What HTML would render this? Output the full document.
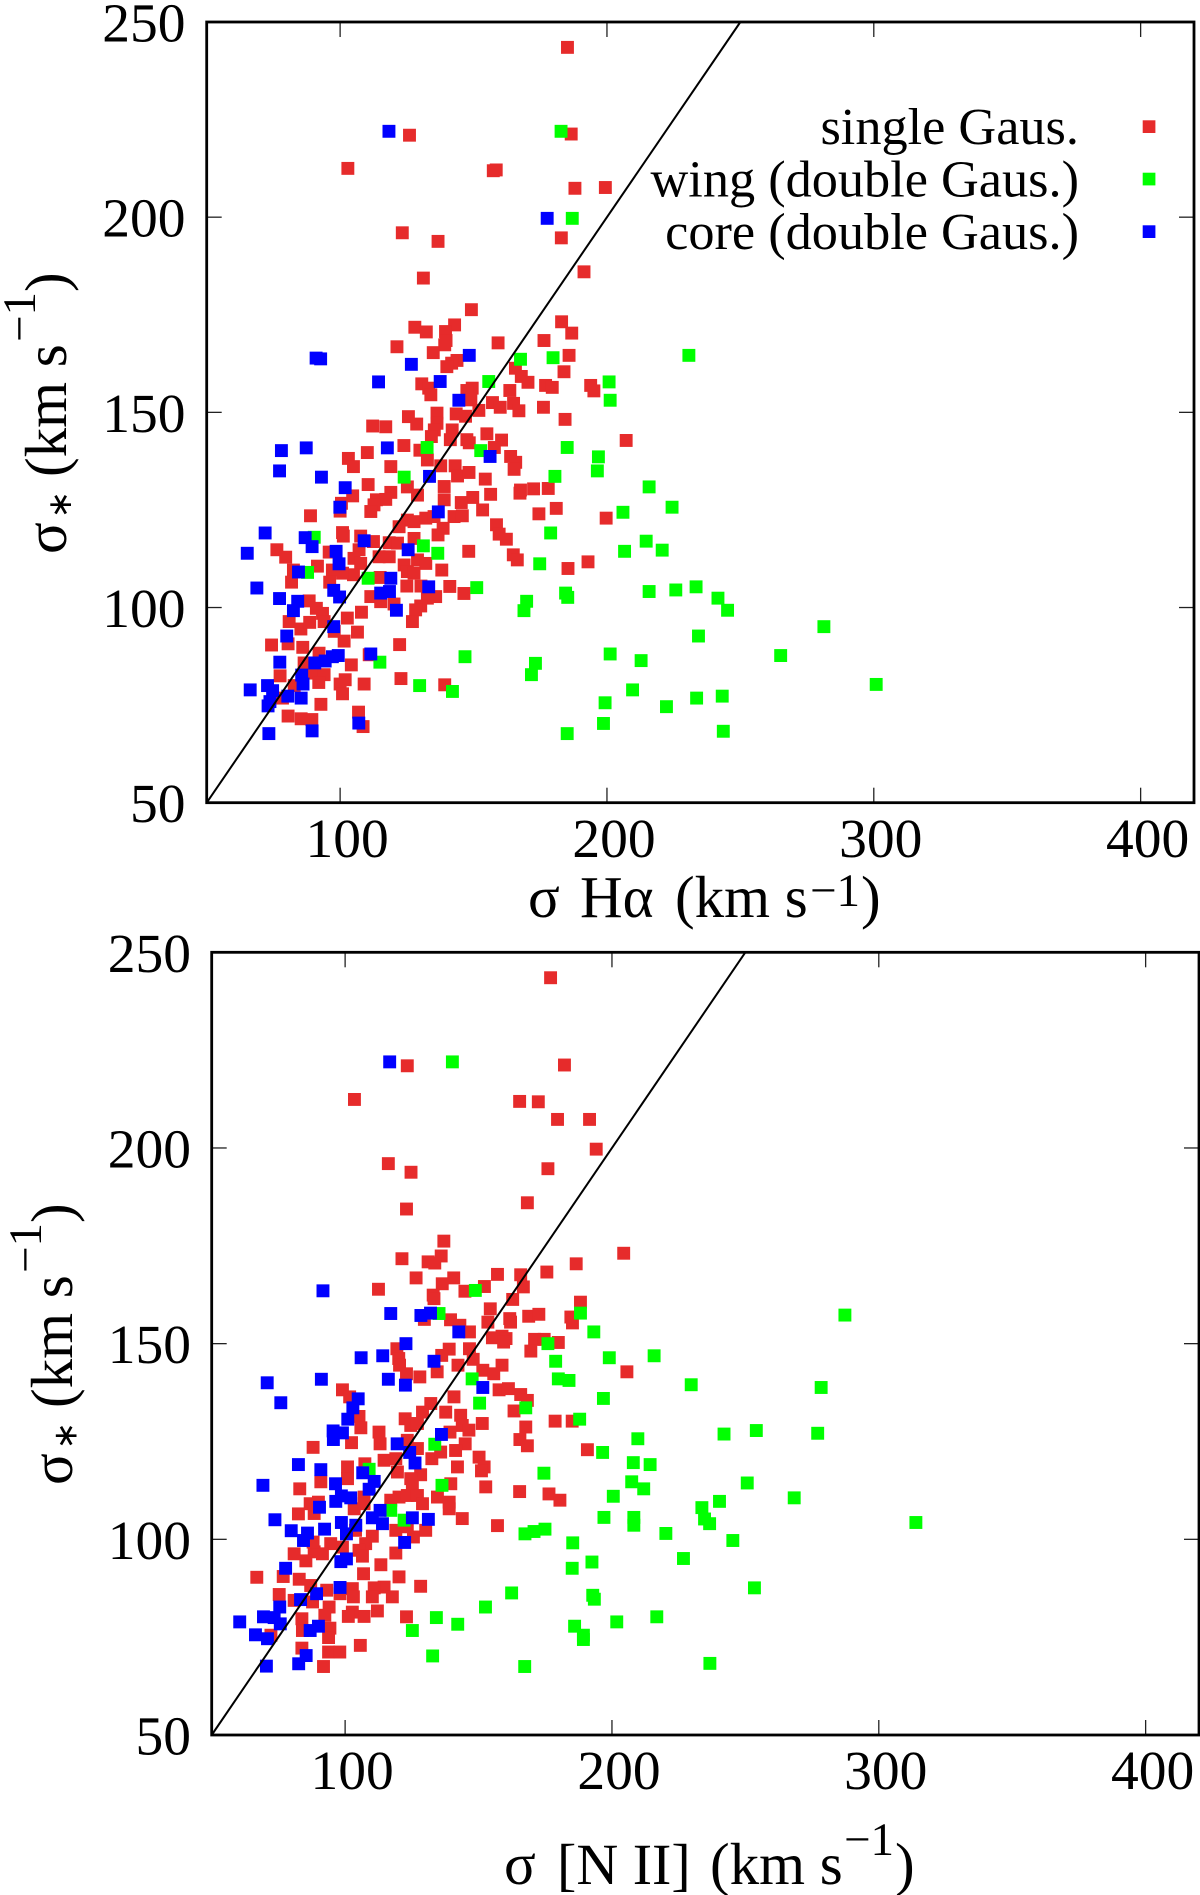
<!DOCTYPE html>
<html>
<head>
<meta charset="utf-8">
<title>Velocity dispersion comparison</title>
<style>
html,body{margin:0;padding:0;background:#fff;}
svg{display:block;position:absolute;left:0;top:0;}
text{font-family:"Liberation Serif",serif;fill:#000;}
</style>
</head>
<body>
<svg id="chart" width="1200" height="1895" viewBox="0 0 1200 1895" xmlns="http://www.w3.org/2000/svg">
  <g id="panel-top"></g>
  <g id="panel-bottom"></g>

  <g>
    <text x="528" y="917" font-size="59">σ</text>
    <text x="580" y="917" font-size="59">Hα</text>
    <text x="675" y="917" font-size="59">(km s</text>
    <text x="810" y="906" font-size="47">−1</text>
    <text x="861" y="917" font-size="59">)</text>
  </g>
  <g>
    <text transform="translate(66,554) rotate(-90)" font-size="59">σ</text>
    <text transform="translate(71,518.5) rotate(-90)" font-size="33">∗</text>
    <text transform="translate(66,477) rotate(-90)" font-size="59">(km s</text>
    <text transform="translate(35,342) rotate(-90)" font-size="47">−1</text>
    <text transform="translate(66,292) rotate(-90)" font-size="59">)</text>
  </g>

  <g>
    <text x="504" y="1884" font-size="59">σ</text>
    <text x="557" y="1884" font-size="58">[N II]</text>
    <text x="710" y="1884" font-size="59">(km s</text>
    <text x="844" y="1855" font-size="47">−1</text>
    <text x="895" y="1884" font-size="59">)</text>
  </g>
  <g>
    <text transform="translate(72,1485) rotate(-90)" font-size="59">σ</text>
    <text transform="translate(76.5,1449.5) rotate(-90)" font-size="33">∗</text>
    <text transform="translate(72,1408) rotate(-90)" font-size="59">(km s</text>
    <text transform="translate(41,1273) rotate(-90)" font-size="47">−1</text>
    <text transform="translate(72,1223) rotate(-90)" font-size="59">)</text>
  </g>

  <g>
    <text x="1079" y="144" font-size="52.3" text-anchor="end">single Gaus.</text>
    <rect x="1142.7" y="120.3" width="12.7" height="12.7" fill="#e62b2b"/>
    <text x="1079" y="196.7" font-size="52.3" text-anchor="end">wing (double Gaus.)</text>
    <rect x="1142.7" y="172.7" width="12.7" height="12.7" fill="#00ff00"/>
    <text x="1079" y="249" font-size="52.3" text-anchor="end">core (double Gaus.)</text>
    <rect x="1142.7" y="225.3" width="12.7" height="12.7" fill="#0000ff"/>
  </g>
</svg>
<script>
const xTickValues = [100, 200, 300, 400];
const yTickValues = [50, 100, 150, 200, 250];

const topSingle = [[185.2,243.5],[126,221],[186.6,221.3],[102.9,212.5],[157.4,211.9],[158.5,212.1],[188,207.4],[199.4,207.6],[123.3,196],[136.7,193.8],[182.9,194.7],[191.4,186],[131.2,184.4],[149.2,176.3],[142.9,172.4],[128,171.8],[132.3,170.6],[139.5,170.7],[183,173.2],[186.8,170.3],[121.3,166.8],[139.2,167.3],[139.7,168.4],[159.2,167.8],[134.9,165.3],[176.4,168.4],[185.8,164.6],[143.8,163.3],[141.8,162.6],[140,161.7],[183.9,160.4],[165.7,161.3],[167.9,159.2],[170.4,157.7],[130.6,157.3],[133.2,156.2],[134,154.5],[149.5,156.2],[147.5,155.6],[149,153.2],[163.6,155.6],[177,156.9],[179.5,156.4],[193.9,156.9],[195.1,155.5],[157.1,152.5],[160,151.3],[165,152.3],[167,150.4],[176.2,151.3],[152,150.5],[143.5,149.6],[147,149],[184.3,148.2],[136.3,149.8],[136.3,147.2],[125.6,148.9],[128.7,147],[112.2,146.5],[117.1,146.3],[135.3,145.5],[134.2,143.8],[142,145.5],[141.3,143],[155,144.5],[160.5,142.9],[147.5,143],[148.4,142.2],[157.8,141],[207.2,142.8],[110.2,139.7],[123.9,141.5],[129.9,140.3],[163.9,138.7],[165.8,137.2],[165.2,135.4],[103.1,138.2],[105,136.1],[119,136.1],[132.7,137.8],[137.7,136.3],[143.1,136.3],[144,133.7],[148.3,134.6],[154.4,132.9],[156.4,129],[167.4,129.3],[167.6,130.1],[172.5,130.4],[178,130.5],[174.5,124],[181,125.4],[110.5,131.5],[125.2,130.9],[129,128.8],[139,131],[139,127.6],[104.7,128.6],[100.5,126.7],[119,129.5],[117.1,127.7],[113.6,127.6],[112.7,126.3],[111.5,124.6],[149.7,128.2],[145.4,126.9],[153.4,125],[100,124.7],[88.9,123.5],[100.9,119.2],[101.2,118.3],[107.7,118.3],[112.5,116.9],[118.4,116.6],[121.5,116.5],[125.2,122.4],[122.1,120.7],[127.7,122],[132.1,122.9],[135.2,123.3],[138.6,120.3],[136.7,118.6],[127.7,117.7],[142.7,123.3],[145.8,123.5],[158.6,121.2],[159.6,118.8],[162.3,117.5],[164.9,113.5],[166.4,112.2],[148.2,114.4],[185.4,110],[192.9,111.7],[199.7,122.9],[76.3,114.8],[79.6,112.9],[82.5,109.6],[81.8,106.5],[91.5,110.6],[95.9,114.2],[107.1,114.8],[105.2,112.6],[107.7,111.3],[105,108.4],[97.1,109.6],[96.1,106.5],[100.9,108.8],[114.6,113],[118.4,113],[124,110.9],[129,112.2],[132.1,111.3],[125.2,109.2],[127.7,108.8],[138.1,109.6],[115,107.7],[125,105.5],[130.3,105.5],[141.1,105.4],[146.4,103.6],[135.8,102.8],[132.7,102.4],[130.2,100.4],[128.3,99.4],[127.1,96.4],[111.5,102.8],[115.2,101.5],[120.2,100.9],[108,98.8],[88.4,101.7],[91.1,99.8],[93.4,98.5],[102.7,97.3],[80.9,96.4],[85.3,94.5],[88.6,96.2],[94,96.4],[97.8,93.9],[106.5,93.7],[101.5,91.4],[74.3,90.4],[80.5,90.7],[86,89.8],[122.3,90.5],[92.1,88.3],[110.9,87.9],[104.2,85.3],[86.5,85.8],[77.5,82.5],[89.8,83.2],[94,82.8],[92,80.8],[101.9,81.5],[100,80.4],[109,80.4],[122.8,81.8],[139.2,80.2],[100.9,77.9],[82.8,80],[78.4,76.8],[92.8,75.2],[106.9,73.2],[108.6,69.5],[80.5,72.2],[85.4,71.5],[89.4,71.3]];
const topWing = [[182.8,222],[187,199.7],[155.7,157.9],[167.6,163.6],[179.8,164],[132.6,141],[152.7,140.2],[185.1,141],[230.7,164.6],[200.8,157.8],[201.2,153.1],[215.8,130.9],[206,124.4],[224.4,125.7],[214.7,117],[220.7,114.7],[206.6,114.4],[215.8,104.1],[225.8,104.5],[233.4,105.3],[241.6,102.4],[245.2,99.3],[234.3,92.7],[281.3,95.1],[201.2,88.1],[212.8,86.4],[265.1,87.7],[209.6,78.9],[300.9,80.3],[243.2,77.3],[233.6,76.8],[222.3,74.6],[199.3,75.6],[198.7,70.3],[243.6,68.3],[196.8,138.6],[196.4,135],[124,133.4],[180.5,133.6],[178.9,119.1],[131.2,115.8],[136.6,113.9],[174.8,111.2],[90.3,118],[87.8,109],[110.5,107.5],[151.2,105.1],[169.9,101.6],[168.9,99.2],[184.5,103.7],[185.3,102.6],[146.8,87.4],[114.9,86],[129.8,80],[142.1,78.5],[173.2,85.7],[171.7,82.8],[185.1,67.7]];
const topCore = [[118.3,222],[177.6,199.7],[91,163.9],[92.7,163.7],[148.4,164.6],[126.7,162.3],[114.4,157.8],[137.5,157.9],[144.5,153.1],[78,140.2],[87.3,140.9],[117.7,140.9],[77.3,135],[93,133.4],[101.9,130.7],[133.5,133.6],[99.9,125.7],[156.2,138.7],[136.8,124.5],[71.9,119.1],[86.9,117.9],[89.5,115.6],[65.2,113.9],[98.5,114.4],[109,117.1],[125.5,114.8],[99.6,111.2],[84.4,109.1],[119,107.5],[68.8,105],[118.5,104.1],[115.2,103.7],[133.2,105.3],[97.6,104.4],[99.8,102.7],[77.3,102.3],[84.1,101.6],[82.5,99.2],[121.1,99.3],[97.6,95.1],[80,92.7],[77.4,86],[111.5,88.1],[99.3,87.7],[97.1,87.4],[94.4,86.3],[90.5,85.8],[85.6,82.7],[86.1,80.4],[72.8,80],[66.3,78.9],[74.7,78.7],[80.4,77.3],[85.4,76.8],[73.7,75.9],[73,74.8],[107,70.4],[89.5,68.4],[73.3,67.7]];

const bottomSingle = [[177,243.5],[123.3,221],[182.2,221.2],[103.5,212.4],[165.4,211.9],[172.4,211.8],[179.6,207.3],[191.6,207.3],[194.1,199.7],[116.2,196],[124.7,193.8],[176,194.7],[168.3,186],[123,184.4],[137,176.2],[136,172.4],[121.3,171.7],[131.1,170.9],[133.6,170.6],[186.6,170.4],[157.1,167.7],[165.8,167.6],[175.6,168.3],[126.6,166.8],[140.7,166.8],[136.4,165.3],[112.5,163.9],[152.2,164.6],[166.8,164.5],[144.9,163.4],[133,162.4],[133.3,161.5],[162.8,161.3],[188.2,160.6],[154.4,158.9],[168.8,157],[172.6,157.5],[184.6,156.8],[185.2,155.3],[129.7,156.2],[139.5,156.1],[143,154.7],[153.5,155.5],[161.7,156.4],[162,155.5],[146.6,153],[155.2,151.5],[158.8,151.9],[160.3,151.3],[159.4,150.4],[171,151.1],[174.6,151.1],[179.9,150.3],[169.6,148.1],[146.6,148.7],[139,148.6],[136.2,147],[119.4,148.7],[120.1,146.2],[120.4,144.5],[148,146],[142.3,144.5],[123,142.3],[128,141.5],[134.5,142.8],[158.8,144.5],[151.6,143.2],[204.4,173.1],[205.6,142.8],[155.7,142.3],[157.7,138.2],[161.2,138.5],[165.8,137],[168.3,135.5],[163.3,132.8],[99,138.2],[101.7,136.4],[105.2,131.4],[105.9,128.5],[140.8,136.4],[132.1,134.7],[129,132.5],[137.7,132.5],[143.3,131.7],[122.5,130.8],[124.6,129.1],[127.1,129.6],[143.9,129.1],[146.4,127.9],[151.4,129.6],[167.7,128.7],[178.7,130.2],[185.1,130.2],[165.5,125.5],[168.3,123.9],[139.3,127.4],[145,124.4],[141.4,122.7],[112.7,127.4],[113.1,124.4],[102.4,124.7],[88,123.5],[123.3,125.3],[127.1,123.2],[132.5,120.6],[135.8,122.3],[150.2,121],[152.1,118.5],[151.1,117.5],[190.8,122.9],[142.1,118.5],[119,120.6],[114.6,120.2],[119.6,117.2],[100.9,118.5],[100.9,115.5],[90.9,114.7],[107.4,119.3],[128.3,116.5],[124.6,115.5],[125.2,114.2],[139.6,114.2],[83,112.9],[86.9,109.1],[90,109.5],[82.5,106.5],[88.4,106.6],[152.7,113.4],[165.4,112.2],[176.4,111.6],[180.5,110],[134.6,110.8],[139,109.5],[139,107.8],[143.9,105.3],[157.1,103.5],[120.2,110.8],[123.3,111.2],[127.1,111.2],[129,109.1],[117.1,110],[107.1,110.8],[103.4,107.8],[107.1,109.1],[130.2,102.3],[125.6,100.6],[119,102.3],[123.3,103.2],[119,96.5],[110.2,100.8],[107.7,98.9],[105.2,97.2],[106.5,95.7],[103.9,102.3],[94.6,98.9],[99,98],[91.5,96.3],[88.4,96.8],[80.9,96.3],[85.3,94.5],[88,99.3],[113.4,93.5],[106.9,91.2],[120.2,90.4],[66.9,90.3],[76.8,90.5],[82.8,89.8],[87.1,88.2],[128.3,88],[114.6,87.8],[110.9,87.6],[102.7,87.4],[117.7,85.3],[110.2,85.3],[103.1,85.3],[98.1,86.1],[93.1,87],[75.3,85.9],[80.9,84.4],[87.8,84],[94,82.7],[92.4,80.6],[112.1,81.7],[107.1,80.3],[102.7,81.4],[101.2,80.3],[123,80.2],[83.8,79.7],[84,76.7],[94.3,77.3],[93.8,74.9],[72.2,75.5],[83.8,72.2],[93.8,71.2],[98,71.2],[105.7,72.9],[91.9,67.5]];
const bottomWing = [[140.2,222],[148.8,163.6],[135.2,157.7],[188.2,157.8],[193.2,153],[176,150],[178.9,145.5],[147.6,141],[179.9,141],[183.9,140.6],[287.3,157.3],[199,146.4],[215.8,146.9],[229.7,139.5],[278.4,138.8],[196.8,136],[242,126.9],[254.1,127.8],[277.1,127.1],[209.7,125.7],[196.5,122.2],[208,119.6],[214.3,119.1],[207.4,114.7],[211.9,112.9],[250.7,114.4],[200.5,111],[268.3,110.6],[233.7,108.1],[240.3,109.7],[234.7,105.2],[236.6,104],[313.9,104.3],[197,105.6],[208.2,105.6],[208.2,103.6],[220.2,101.5],[245.3,99.7],[226.8,95.1],[253.4,87.6],[216.8,80.2],[201.8,78.9],[236.7,68.3],[167.7,133.6],[150.4,134.8],[187.9,130.7],[174.5,116.9],[133.6,124.3],[109,117.9],[136.3,113.8],[117.1,107.4],[122.1,104.9],[167.4,101.4],[170.8,102],[174.9,102.6],[185.3,99.1],[192.5,94.2],[185.1,92.6],[162.4,86.3],[152.6,82.7],[192.8,85.7],[193.4,84.7],[186,77.8],[189.3,75.5],[189.3,74.4],[134.2,80],[142.2,78.3],[125.2,76.7],[132.8,70.2],[167.3,67.5]];
const bottomCore = [[116.7,222],[91.7,163.5],[117.1,157.7],[128.4,157.2],[132,157.8],[142.6,153],[122.8,150],[106,146.4],[114.1,146.9],[133.3,145.5],[70.8,140],[91.1,140.9],[116.2,140.9],[122.6,139.4],[151.6,138.8],[104.9,135.9],[75.9,134.9],[102.9,133.6],[101,130.7],[95.5,127.7],[99,127.2],[95.6,125.5],[136.1,126.8],[119.5,124.4],[124.2,122.2],[126.2,119.5],[82.5,119.1],[90.9,117.8],[106.6,117],[110.9,114.8],[109,112.8],[69.2,113.8],[96.4,114.2],[98.6,111.1],[102.1,110.6],[96.5,109.7],[90.4,108.2],[113.1,107.4],[110.2,105.5],[114,104],[125.2,105.5],[131.2,105.1],[73.7,105],[79.8,102.2],[85.9,101.6],[84.4,99.7],[92.3,102.6],[98.6,104.3],[104,103.6],[100.5,101.4],[122.3,99.2],[100.5,95],[98.4,94.3],[77.7,92.6],[98.1,87.7],[89.3,86.1],[83.3,84.6],[75.5,82.7],[69.4,80.2],[73.4,80],[75.7,78.4],[60.5,78.9],[66.4,75.6],[70.9,74.6],[86.9,76.7],[90,77.8],[85.4,70.3],[82.6,68.2],[70.5,67.6]];

const NS = 'http://www.w3.org/2000/svg';
const X_MIN = 50, X_MAX = 420, Y_MIN = 50, Y_MAX = 250;
const MARKER = 12.9;

function make(tag, attrs, parent) {
  const el = document.createElementNS(NS, tag);
  for (const k in attrs) el.setAttribute(k, attrs[k]);
  parent.appendChild(el);
  return el;
}

function drawPanel(group, box, prefix, single, wing, core) {
  const sx = function (v) { return box.left + (v - X_MIN) * (box.right - box.left) / (X_MAX - X_MIN); };
  const sy = function (v) { return box.bottom - (v - Y_MIN) * (box.bottom - box.top) / (Y_MAX - Y_MIN); };

  xTickValues.forEach(function (v) {
    const bottomTick = make('line', {x1: sx(v), x2: sx(v), y1: box.bottom, y2: box.bottom - 15, stroke: '#222', 'stroke-width': 1.3}, group);
    
    
    const topTick = make('line', {x1: sx(v), x2: sx(v), y1: box.top, y2: box.top + 15, stroke: '#222', 'stroke-width': 1.3}, group);
    
    
    const label = make('text', {x: sx(v) + 7, y: box.xLabelY, 'font-size': 55.5, 'text-anchor': 'middle'}, group);
    
    
    label.textContent = String(v);
  });

  yTickValues.forEach(function (v) {
    const leftTick = make('line', {x1: box.left, x2: box.left + 15, y1: sy(v), y2: sy(v), stroke: '#222', 'stroke-width': 1.3}, group);
    
    
    const rightTick = make('line', {x1: box.right, x2: box.right - 15, y1: sy(v), y2: sy(v), stroke: '#222', 'stroke-width': 1.3}, group);
    
    
    const label = make('text', {x: box.yLabelX, y: sy(v) + 19.5, 'font-size': 55.5, 'text-anchor': 'end'}, group);
    
    
    label.textContent = String(v);
  });

  const seriesList = [
    {points: single, color: '#e62b2b', name: 'single-gaus-point'},
    {points: wing, color: '#00ff00', name: 'wing-point'},
    {points: core, color: '#0000ff', name: 'core-point'}
  ];
  seriesList.forEach(function (series) {
    series.points.forEach(function (p) {
      const mark = make('rect', {x: sx(p[0]) - MARKER / 2, y: sy(p[1]) - MARKER / 2, width: MARKER, height: MARKER, fill: series.color}, group);
      
      
    });
  });

  const oneToOne = make('line', {x1: sx(Y_MIN), y1: sy(Y_MIN), x2: sx(Y_MAX), y2: sy(Y_MAX), stroke: '#000', 'stroke-width': 2}, group);
  
  

  const frame = make('rect', {x: box.left, y: box.top, width: box.right - box.left, height: box.bottom - box.top, fill: 'none', stroke: '#000', 'stroke-width': 2.8}, group);
  
  
}

drawPanel(document.getElementById('panel-top'),
  {left: 206.7, right: 1194, top: 22, bottom: 802.7, xLabelY: 857, yLabelX: 185.5},
  'halpha', topSingle, topWing, topCore);
drawPanel(document.getElementById('panel-bottom'),
  {left: 211.7, right: 1199, top: 952.3, bottom: 1735, xLabelY: 1789, yLabelX: 191},
  'nii', bottomSingle, bottomWing, bottomCore);
</script>
</body>
</html>
